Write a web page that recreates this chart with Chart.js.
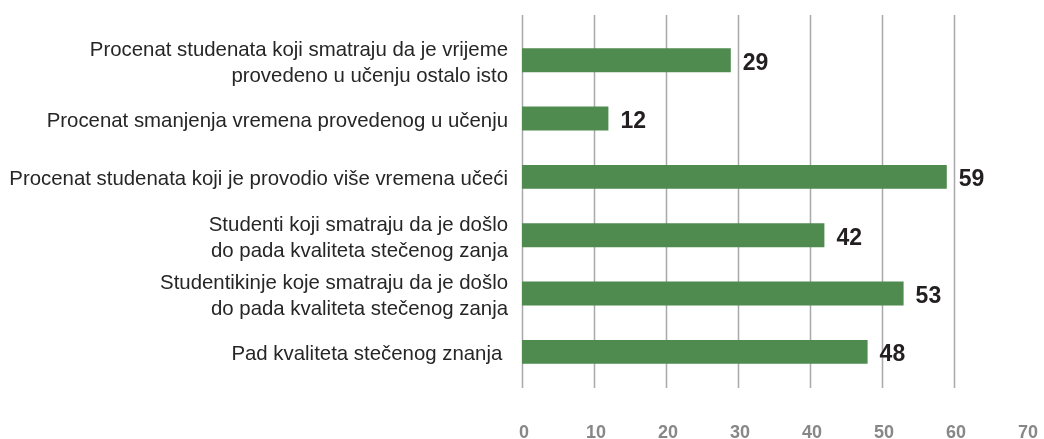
<!DOCTYPE html>
<html>
<head>
<meta charset="utf-8">
<script src="https://cdn.jsdelivr.net/npm/chart.js@4"></script>
<style>
  html, body { margin: 0; padding: 0; background: #fff; }
</style>
</head>
<body>
<canvas id="barChart" width="1044" height="439"></canvas>
<script>
// kategorije (višeredni nazivi) i vrijednosti u %
const categories = [
    ['Procenat studenata koji smatraju da je vrijeme', 'provedeno u učenju ostalo isto'],
    'Procenat smanjenja vremena provedenog u učenju',
    'Procenat studenata koji je provodio više vremena učeći',
    ['Studenti koji smatraju da je došlo', 'do pada kvaliteta stečenog zanja'],
    ['Studentikinje koje smatraju da je došlo', 'do pada kvaliteta stečenog zanja'],
    'Pad kvaliteta stečenog znanja '
];
const values = [29, 12, 59, 42, 53, 48];
const xTicks = [0, 10, 20, 30, 40, 50, 60, 70];

// vertikalne linije mreže, malo duže od područja grafa
const gridPlugin = {
    id: 'gridLines',
    beforeDatasetsDraw(chart) {
        const { ctx, chartArea, scales } = chart;
        ctx.save();
        ctx.strokeStyle = '#a9a9ab';
        ctx.lineWidth = 1.5;
        xTicks.slice(0, -1).forEach(v => {
            const x = Math.round(scales.x.getPixelForValue(v)) + 0.5;
            ctx.beginPath();
            ctx.moveTo(x, chartArea.top - 16);
            ctx.lineTo(x, chartArea.bottom + 7);
            ctx.stroke();
        });
        ctx.restore();
    }
};

// vrijednosti desno od stubića
const valueLabels = {
    id: 'valueLabels',
    afterDatasetsDraw(chart) {
        const { ctx } = chart;
        const meta = chart.getDatasetMeta(0);
        ctx.save();
        ctx.font = 'bold 23px "Liberation Sans", Arial, sans-serif';
        ctx.fillStyle = '#231f20';
        ctx.textAlign = 'left';
        ctx.textBaseline = 'middle';
        meta.data.forEach((bar, i) => {
            ctx.fillText(values[i], bar.x + 12, bar.y + 3);
        });
        ctx.restore();
    }
};

const ctx = document.getElementById('barChart').getContext('2d');
new Chart(ctx, {
    type: 'bar',
    data: {
        labels: categories,
        datasets: [{
            data: values,
            backgroundColor: '#4f8a4f',
            borderWidth: 0,
            categoryPercentage: 1,
            barPercentage: 0.41
        }]
    },
    options: {
        indexAxis: 'y',
        responsive: false,
        animation: false,
        layout: { padding: { top: 31, right: 18, left: 0, bottom: 0 } },
        plugins: { legend: { display: false }, tooltip: { enabled: false } },
        scales: {
            x: {
                min: 0,
                max: 70,
                afterBuildTicks: s => { s.ticks = xTicks.map(v => ({ value: v })); },
                afterFit: s => { s.height = 58; s.paddingRight = 10; s.paddingLeft = 10; },
                grid: { display: false, drawTicks: false },
                border: { display: false },
                ticks: {
                    padding: 41,
                    labelOffset: 2,
                    color: '#878787',
                    font: { family: '"Liberation Sans", Arial, sans-serif', size: 18, weight: 'bold' }
                }
            },
            y: {
                afterFit: s => { s.width = 522; },
                grid: { display: false, drawTicks: false },
                border: { display: false },
                ticks: {
                    padding: 14,
                    labelOffset: 3,
                    color: '#262626',
                    font: { family: '"Liberation Sans", Arial, sans-serif', size: 20.4, lineHeight: 1.25 }
                }
            }
        }
    },
    plugins: [gridPlugin, valueLabels]
});
</script>
</body>
</html>
